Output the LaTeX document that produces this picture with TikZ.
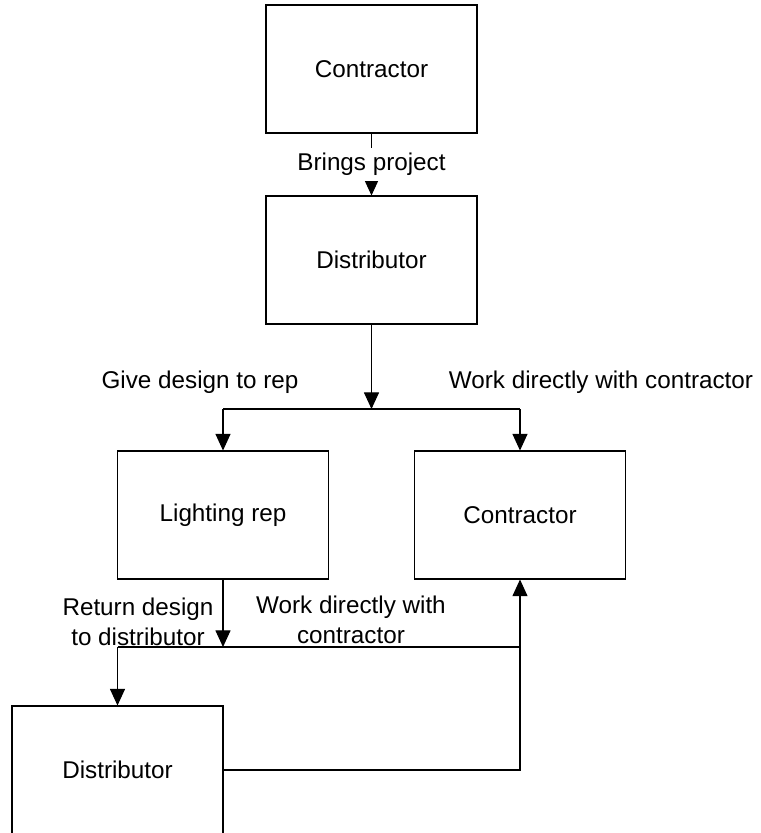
\documentclass[tikz,border=0pt]{standalone}
\usepackage{fontspec}
\setmainfont{Liberation Sans}
\usepackage{tikz}
\usetikzlibrary{arrows.meta}
\tikzstyle{box} = [draw, rectangle, line width=0.6pt, minimum width=4.22cm, minimum height=2.56cm, inner sep=0pt]
\tikzstyle{arrow} = [-{Triangle[length=9.5pt, width=8.6pt]}]
\tikzstyle{lbl} = [inner sep=0pt, align=center]

\begin{document}
\begin{tikzpicture}[x=0.02cm, y=-0.02cm, line width=0.6pt, font=\fontsize{13.8}{17}\selectfont]
	\useasboundingbox (0,0) rectangle (761,833);

	\node[box](c1) at (371.5, 69){Contractor};
	\node[box](d1) at (371.5, 260){Distributor};
	\node[box](rep) at (223, 515){Lighting rep};
	\node[box](c2) at (520, 515){Contractor};
	\node[box](d2) at (117.5, 770){Distributor};

	\coordinate(j1) at (371.5, 409);
	\coordinate(jl) at (223, 409);
	\coordinate(jr) at (520, 409);
	\coordinate(j2) at (223, 647);
	\coordinate(jb) at (117.5, 647);
	\coordinate(je) at (520, 647);
	\coordinate(jc) at (520, 770);

	\draw[arrow](c1) -- node[lbl, fill=white, inner sep=3pt](bp){Brings project} (d1);
	\draw[arrow](d1) -- (j1);
	\draw(jl) -- (jr);
	\draw[arrow](jl) -- (rep);
	\draw[arrow](jr) -- (c2);
	\node[lbl](give) at (200, 382){Give design to rep};
	\node[lbl](work1) at (601, 382){Work directly with contractor};

	\draw[arrow](rep) -- (j2);
	\draw(jb) -- (je);
	\draw[arrow](jb) -- (d2);
	\draw[arrow](d2) -- (jc) -- (c2);
	\node[lbl](ret) at (138, 622){Return design\\to distributor};
	\node[lbl](work2) at (351, 620){Work directly with\\contractor};
\end{tikzpicture}
\end{document}
